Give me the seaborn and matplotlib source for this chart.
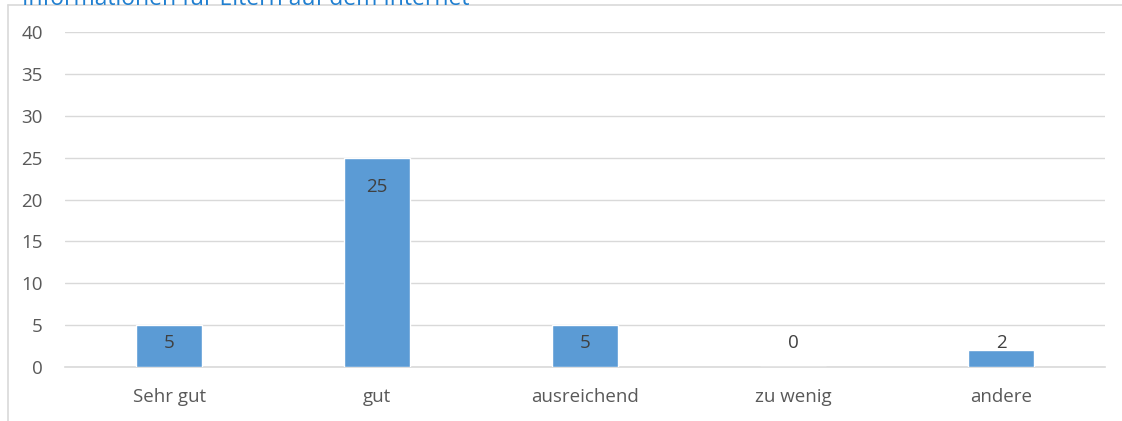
import numpy as np
import pandas as pd
import matplotlib
matplotlib.use("Agg")
import matplotlib.pyplot as plt
import seaborn as sns
from matplotlib.lines import Line2D

# =========================
# Data
# =========================

categories = ["Sehr gut", "gut", "ausreichend", "zu wenig", "andere"]
counts = [5, 25, 5, 0, 2]
title = "Informationen für Eltern auf dem Internet"

df = pd.DataFrame({"Kategorie": categories, "Anzahl": counts})

# =========================
# Style
# =========================

sns.set_style("white")
plt.rcParams["font.family"] = ["Open Sans", "DejaVu Sans"]

grey_text = "#595959"
grid_col = "#d9d9d9"
bar_col = "#5b9bd5"

fig = plt.figure(figsize=(11.22, 4.21), dpi=100)
ax = fig.add_axes([0.058, 0.128, 0.927, 0.796])

sns.barplot(data=df, x="Kategorie", y="Anzahl", color=bar_col,
            width=0.32, saturation=1, ax=ax, zorder=3)

ax.set_ylim(0, 40)
ax.set_yticks(np.arange(0, 41, 5))
ax.yaxis.grid(True, color=grid_col, linewidth=1, zorder=0)
ax.set_axisbelow(True)
for s in ["top", "right", "left"]:
    ax.spines[s].set_visible(False)
ax.spines["bottom"].set_color(grid_col)
ax.spines["bottom"].set_linewidth(1.2)
ax.tick_params(axis="both", length=0, labelsize=13.5, colors=grey_text)
ax.tick_params(axis="y", pad=16)
ax.tick_params(axis="x", pad=15)
ax.set_xlabel("")
ax.set_ylabel("")

# value labels
for i, v in enumerate(counts):
    ax.text(i, max(v - 3.5, 2.9), str(v), ha="center", va="center",
            fontsize=13.5, color="#404040", zorder=4)

# title, clipped at top edge like the original
fig.text(0.0196, 1.003, title, ha="left", va="center", fontsize=16.5,
         color="#1f7fd0")

# chart frame
fig.add_artist(Line2D([0.007, 0.007], [0, 0.988], color=grid_col, lw=1.2))
fig.add_artist(Line2D([0.007, 1.0], [0.988, 0.988], color=grid_col, lw=1.2))

plt.savefig("out.png", dpi=100)
